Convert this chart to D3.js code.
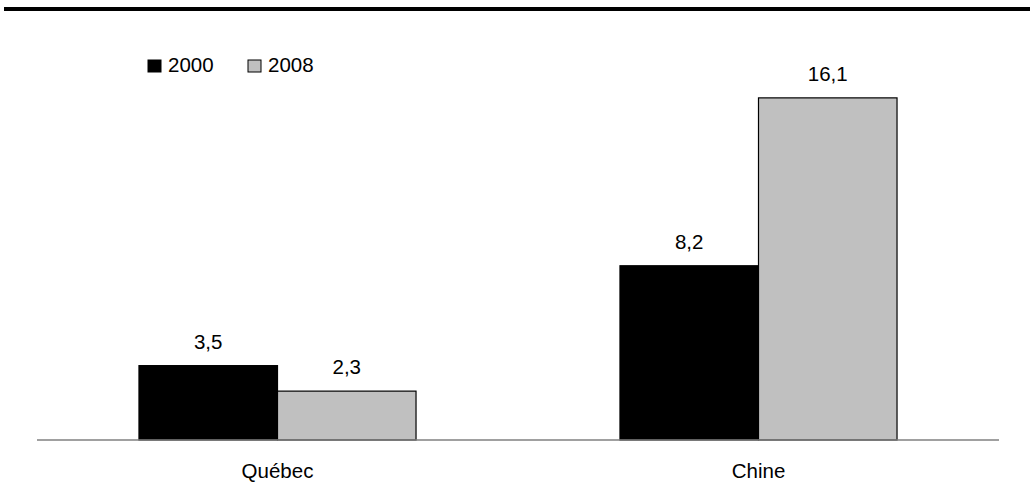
<!DOCTYPE html>
<html>
<head>
<meta charset="utf-8">
<script src="https://cdn.jsdelivr.net/npm/d3@7"></script>
<style>
  html, body { margin: 0; padding: 0; background: #fff; }
  svg { display: block; font-family: Arial, "Liberation Sans", sans-serif; }
</style>
</head>
<body>
<svg id="chart" width="1030" height="504"></svg>
<script>
// Data
const categories = ["Québec", "Chine"];
const seriesNames = ["2000", "2008"];
const values2000 = [3.5, 8.2];
const values2008 = [2.3, 16.1];
const seriesColors = ["#000000", "#c0c0c0"];

const formatFr = v => v.toFixed(1).replace(".", ",");

const svg = d3.select("#chart");
const W = 1030, H = 504;
const baseY = 440;
const fontSize = 20.5;

// Thick rule across the top
svg.append("rect").attr("x", 4).attr("y", 7).attr("width", W - 4).attr("height", 4).attr("fill", "#000");

const x0 = d3.scaleBand().domain(categories).range([37, 999])
  .paddingInner(0.424).paddingOuter(0.212);
const x1 = d3.scaleBand().domain(seriesNames).range([0, x0.bandwidth()]).padding(0);
const y = d3.scaleLinear().domain([0, 18]).range([baseY, baseY - 18 * 21.25]);

const rows = categories.map((c, i) => ({
  cat: c,
  vals: [
    { s: seriesNames[0], v: values2000[i], color: seriesColors[0] },
    { s: seriesNames[1], v: values2008[i], color: seriesColors[1] }
  ]
}));

const groups = svg.append("g").selectAll("g").data(rows).join("g")
  .attr("transform", d => `translate(${x0(d.cat)},0)`);

groups.selectAll("rect").data(d => d.vals).join("rect")
  .attr("x", d => x1(d.s))
  .attr("y", d => y(d.v))
  .attr("width", x1.bandwidth())
  .attr("height", d => y(0) - y(d.v))
  .attr("fill", d => d.color)
  .attr("stroke", "#000")
  .attr("stroke-width", 1.2);

groups.selectAll("text").data(d => d.vals).join("text")
  .attr("x", d => x1(d.s) + x1.bandwidth() / 2)
  .attr("y", d => y(d.v) - 17)
  .attr("text-anchor", "middle")
  .attr("font-size", fontSize)
  .attr("fill", "#000")
  .text(d => formatFr(d.v));

// Baseline axis
const xAxis = d3.axisBottom(x0).tickSize(0).tickPadding(0);
const axisG = svg.append("g").attr("transform", `translate(0,${baseY})`).call(xAxis);
axisG.select(".domain").attr("d", `M37,0H999`).attr("stroke", "#808080").attr("stroke-width", 1.5);
axisG.selectAll(".tick text")
  .attr("y", 38).attr("dy", null)
  .attr("font-size", fontSize)
  .attr("font-family", "Arial, 'Liberation Sans', sans-serif")
  .attr("fill", "#000");

// Legend
const legend = svg.append("g");
const legendX = [148, 248];
seriesNames.forEach((s, i) => {
  legend.append("rect")
    .attr("x", legendX[i]).attr("y", 60)
    .attr("width", 13).attr("height", 12)
    .attr("fill", seriesColors[i])
    .attr("stroke", "#000").attr("stroke-width", 1);
  legend.append("text")
    .attr("x", legendX[i] + 20).attr("y", 72)
    .attr("font-size", fontSize).attr("fill", "#000")
    .text(s);
});
</script>
</body>
</html>
